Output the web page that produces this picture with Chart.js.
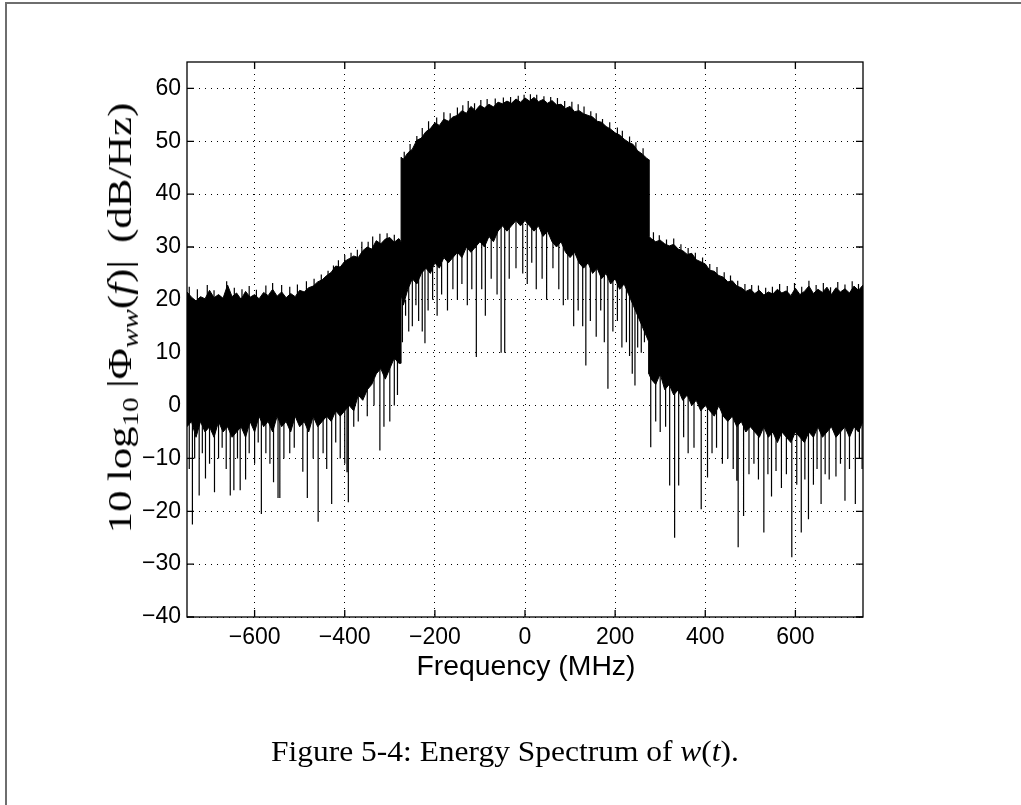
<!DOCTYPE html>
<html lang="en">
<head>
    <meta charset="UTF-8">
    <title>Energy Spectrum of w(t)</title>
    <script src="https://cdn.jsdelivr.net/npm/chart.js"></script>
    <style>
        html, body { margin: 0; padding: 0; background: #fff; }
        body { width: 1021px; height: 805px; position: relative; overflow: hidden; }
        #page-edge {
            position: absolute; left: 5px; top: 2px; right: 0; bottom: 0;
            border-top: 2px solid #6e6e6e; border-left: 2px solid #6e6e6e;
        }
        #chart { position: absolute; left: 0; top: 0; }
        #ylabel {
            position: absolute; left: 120px; top: 318px;
            transform: translate(-50%, -50%) rotate(-90deg) scaleX(1.26);
            font-family: "Liberation Serif", "DejaVu Serif", serif;
            font-size: 34px; line-height: 34px; white-space: nowrap; color: #000;
        }
        #ylabel .gap { display: inline-block; width: 0.22em; }
        #ylabel .wide { display: inline-block; width: 0.4em; }
        #xlabel {
            position: absolute; left: 526px; top: 653px;
            transform: translateX(-50%) scaleX(1.05);
            font-family: "Liberation Sans", Arial, sans-serif;
            font-size: 27px; line-height: 27px; white-space: nowrap; color: #000;
        }
        #caption {
            position: absolute; left: 505px; top: 735px;
            transform: translateX(-50%) scaleX(1.085);
            font-family: "Liberation Serif", "DejaVu Serif", serif;
            font-size: 29px; white-space: nowrap; color: #000;
        }
        sub { font-size: 68%; vertical-align: -0.3em; line-height: 0; }
    </style>
</head>
<body>
    <div id="page-edge"></div>
    <canvas id="chart" width="1021" height="805"></canvas>
    <div id="ylabel">10<span class="gap"></span>log<sub>10</sub><span class="gap"></span>|&Phi;<sub><i>ww</i></sub>(<i>f</i>)|<span class="wide"></span>(dB/Hz)</div>
    <div id="xlabel">Frequency (MHz)</div>
    <div id="caption">Figure 5-4: Energy Spectrum of <i>w</i>(<i>t</i>).</div>

    <script>
        // outer bands (below -275 MHz and above 275 MHz) and the main band
        const leftFreq = [-750, -740, -730, -720, -710, -700, -690, -680, -670, -660,
            -650, -640, -630, -620, -610, -600, -590, -580, -570, -560,
            -550, -540, -530, -520, -510, -500, -490, -480, -470, -460,
            -450, -440, -430, -420, -410, -400, -390, -380, -370, -360,
            -350, -340, -330, -320, -310, -300, -290, -280, -275];
        const upperLeft = [21.5, 20.5, 19.8, 20.6, 20.2, 21.8, 20.4, 21.0, 20.3, 22.8,
            20.6, 21.3, 20.1, 21.6, 20.5, 21.0, 20.2, 21.4, 20.8, 22.0,
            20.7, 21.5, 20.4, 21.2, 20.6, 21.8, 21.5, 22.3, 22.6, 23.4,
            23.8, 24.6, 25.2, 26.4, 26.2, 27.3, 27.8, 28.3, 28.0, 29.3,
            30.0, 29.6, 31.2, 30.6, 31.5, 31.8, 30.9, 31.6, 31.0];
        const lowerLeft = [-4, -3, -6, -3, -5, -4, -6, -3, -5, -4,
            -6, -5, -4, -6, -3, -5, -2, -4, -3, -5,
            -2, -4, -3, -5, -2, -4, -3, -5, -2, -4,
            -3, -2, -3, -1, -2, -1, 0, -1, 2, 1,
            3, 4, 6, 7, 5, 7, 9, 8, 8];

        const midFreq = [-275, -270, -260, -250, -240, -230, -220, -210, -200, -190, -180,
            -170, -160, -150, -140, -130, -120, -110, -100, -90, -80,
            -70, -60, -50, -40, -30, -20, -10, 0, 10, 20,
            30, 40, 50, 60, 70, 80, 90, 100, 110, 120,
            130, 140, 150, 160, 170, 180, 190, 200, 210, 220,
            230, 240, 250, 260, 270, 275];
        const upperMid = [47.0, 46.6, 47.8, 48.5, 50.2, 50.6, 51.8, 52.4, 53.5, 53.0, 54.2,
            53.8, 54.6, 54.9, 55.8, 55.3, 56.6, 55.8, 56.8, 56.3, 57.0,
            56.5, 57.4, 57.1, 57.6, 57.2, 58.0, 57.4, 58.2, 57.6, 58.3,
            57.5, 57.9, 57.2, 57.7, 56.9, 57.0, 56.2, 56.6, 55.6, 55.8,
            55.2, 54.9, 54.6, 53.8, 53.6, 52.8, 52.3, 51.6, 51.2, 50.4,
            49.8, 49.4, 48.2, 47.6, 46.8, 46.5];
        const lowerMid = [21, 19, 22, 24, 23, 25, 26, 25, 27, 26, 28,
            27, 28, 29, 28, 30, 29, 30, 31, 30, 32,
            31, 33, 34, 33, 34, 35, 34, 35, 34, 33,
            34, 32, 33, 31, 30, 31, 29, 28, 29, 27,
            26, 27, 25, 26, 24, 25, 23, 24, 22, 23,
            21, 19, 17, 15, 13, 12];

        const rightFreq = [275, 280, 290, 300, 310, 320, 330, 340, 350, 360, 370,
            380, 390, 400, 410, 420, 430, 440, 450, 460, 470,
            480, 490, 500, 510, 520, 530, 540, 550, 560, 570,
            580, 590, 600, 610, 620, 630, 640, 650, 660, 670,
            680, 690, 700, 710, 720, 730, 740, 750];
        const upperRight = [32.0, 31.6, 31.0, 31.3, 30.6, 30.2, 30.5, 29.6, 29.3, 28.6, 28.8,
            27.6, 27.2, 26.8, 25.6, 25.4, 24.6, 24.3, 23.4, 23.6, 22.6,
            22.3, 21.6, 22.0, 21.2, 21.8, 20.9, 21.5, 21.1, 22.0, 21.3,
            21.7, 20.8, 22.2, 21.0, 21.6, 22.6, 21.2, 22.0, 21.4, 22.4,
            21.0, 22.3, 21.5, 22.1, 21.3, 22.6, 21.8, 22.8];
        const lowerRight = [6, 5, 4, 6, 3, 4, 2, 3, 1, 2, 0,
            1, -1, 0, -1, -2, 0, -2, -3, -2, -4,
            -3, -5, -4, -5, -6, -4, -6, -5, -7, -5,
            -6, -7, -5, -6, -7, -5, -6, -4, -6, -5,
            -4, -6, -5, -4, -6, -4, -5, -3];

        // deep notches hanging below the solid body
        const spikeFreq = [-745, -738, -733, -723, -716, -709, -700, -689, -680, -672,
            -663, -654, -646, -638, -632, -620, -612, -600, -592, -585,
            -575, -566, -558, -548, -544, -535, -522, -512, -493, -483,
            -470, -459, -448, -440, -429, -420, -410, -400, -395, -392,
            -380, -370, -350, -335, -322, -313, -300, -290, -283,
            -272, -265, -258, -250, -242, -236, -228, -222, -215, -205,
            -195, -185, -172, -160, -150, -140, -128, -118, -108, -96,
            -88, -75, -62, -53, -45, -35, -20, -5, 5, 15,
            25, 38, 48, 62, 75, 85, 95, 108, 118, 128,
            135, 145, 158, 168, 176, 184, 195, 205, 215, 225,
            232, 238, 244, 250, 258, 265,
            279, 290, 300, 312, 321, 332, 341, 352, 362, 375,
            391, 405, 415, 425, 438, 450, 462, 470, 473, 485,
            497, 508, 518, 530, 539, 547, 557, 569, 580, 592,
            603, 613, 621, 629, 640, 648, 657, 666, 675, 690,
            700, 710, 720, 733, 742, 748];
        const spikeLow = [-12, -22.5, -10, -17, -9, -13.8, -11, -16.4, -10, -8,
            -12, -17, -16, -10, -16, -14, -9, -11, -7, -20.5,
            -9, -11, -14.5, -17.5, -17.5, -10, -9, -8, -12.5, -17.5,
            -10, -22, -9, -12, -18.6, -7, -10, -11, -12.6, -18.3,
            -4, -3, -2, 0, -8.5, -4, -3, 0, 2,
            12, 17, 14, 15, 19, 16, 14, 11.8, 18, 20,
            17, 21, 18, 22, 20, 23, 19, 22, 9.2, 22,
            17, 24, 21, 10, 10, 24, 26, 25, 23, 27,
            22, 24, 20, 26, 22, 19, 20, 15, 18, 15,
            7.6, 16, 13, 18, 12, 3.2, 14, 16, 11, 12,
            9.4, 6, 3.8, 11, 10, 12,
            -7.9, -3, -5, -4, -15.1, -25, -15.1, -6, -9, -8,
            -19.6, -13.6, -9, -8, -11, -10, -12, -14.2, -26.8, -20.9,
            -13, -11, -14, -24, -13, -17.2, -12.4, -15.6, -13, -28.7,
            -15, -24, -14, -21.5, -15, -12, -18.6, -13, -14, -13.4,
            -11, -18, -12, -18.6, -10, -12];

        // thin peaks poking above the top edge
        const peakFreq = [-745, -727, -705, -690, -662, -645, -628, -612, -596, -575,
            -560, -540, -522, -505, -485, -468, -452, -437, -425, -414,
            -400, -386, -372, -362, -348, -338, -322, -306, -290,
            -268, -255, -240, -228, -214, -196, -180, -166, -150, -138,
            -126, -112, -98, -84, -66, -48, -32, -15, -2, 12,
            26, 42, 57, 72, 88, 104, 118, 131, 146, 158,
            172, 188, 205, 216, 232, 246, 262,
            285, 298, 314, 330, 346, 362, 378, 394, 410, 426,
            442, 456, 472, 488, 503, 518, 534, 549, 565, 582,
            598, 614, 630, 646, 662, 678, 694, 710, 726, 740];
        const peakHigh = [22.5, 22.0, 22.8, 21.8, 23.5, 22.3, 22.0, 22.6, 21.9, 22.7,
            23.2, 22.8, 22.5, 22.9, 23.5, 24.0, 24.8, 25.5, 26.5, 27.5,
            28.5, 28.9, 29.5, 31.0, 31.0, 32.0, 32.5, 32.6, 32.3,
            48.0, 49.5, 51.0, 52.5, 53.8, 54.5, 55.5, 55.3, 56.4, 56.8,
            57.6, 57.2, 57.8, 58.0, 58.1, 58.3, 58.4, 58.6, 58.8, 58.9,
            58.8, 58.5, 58.4, 58.2, 57.6, 57.5, 57.0, 56.6, 55.7, 55.3,
            54.2, 53.6, 52.6, 52.0, 50.9, 49.8, 48.7,
            32.8, 32.2, 31.4, 31.6, 30.5, 29.8, 28.9, 28.0, 26.8, 26.2,
            25.2, 24.6, 23.6, 23.0, 22.8, 22.7, 22.3, 22.5, 23.0, 22.6,
            23.2, 22.5, 23.6, 22.8, 23.2, 22.4, 23.4, 22.9, 23.5, 23.0];

        const xTicks = [-600, -400, -200, 0, 200, 400, 600];
        const yTicks = [-40, -30, -20, -10, 0, 10, 20, 30, 40, 50, 60];

        const freq = leftFreq.concat(midFreq, rightFreq);
        const upper = upperLeft.concat(upperMid, upperRight);
        const lower = lowerLeft.concat(lowerMid, lowerRight);

        function nearestIndex(f) {
            let best = 0;
            for (let i = 1; i < freq.length; i++) {
                if (Math.abs(freq[i] - f) < Math.abs(freq[best] - f)) best = i;
            }
            return best;
        }

        // vertical strokes joined to the solid body, split by null gaps
        const strokePoints = [];
        spikeFreq.forEach((f, i) => {
            strokePoints.push({x: f, y: lower[nearestIndex(f)] + 1}, {x: f, y: spikeLow[i]}, {x: f, y: null});
        });
        peakFreq.forEach((f, i) => {
            strokePoints.push({x: f, y: upper[nearestIndex(f)] - 1}, {x: f, y: peakHigh[i]}, {x: f, y: null});
        });

        const minusLabel = v => (v < 0 ? '\u2212' + Math.abs(v) : String(v));

        // box round the plot with inward tick marks on all four sides
        const axesFrame = {
            id: 'axesFrame',
            afterDatasetsDraw(chart) {
                const {ctx, chartArea: a, scales: {x, y}} = chart;
                const len = 7;
                ctx.save();
                ctx.strokeStyle = '#000';
                ctx.lineWidth = 1.3;
                ctx.strokeRect(a.left, a.top, a.right - a.left, a.bottom - a.top);
                ctx.beginPath();
                xTicks.forEach(v => {
                    const px = x.getPixelForValue(v);
                    ctx.moveTo(px, a.bottom); ctx.lineTo(px, a.bottom - len);
                    ctx.moveTo(px, a.top); ctx.lineTo(px, a.top + len);
                });
                yTicks.forEach(v => {
                    const py = y.getPixelForValue(v);
                    ctx.moveTo(a.left, py); ctx.lineTo(a.left + len, py);
                    ctx.moveTo(a.right, py); ctx.lineTo(a.right - len, py);
                });
                ctx.stroke();
                ctx.restore();
            }
        };

        const tickFont = {family: '"Liberation Sans", Arial, sans-serif', size: 23};

        new Chart(document.getElementById('chart'), {
            type: 'line',
            data: {
                datasets: [
                    {
                        data: freq.map((f, i) => ({x: f, y: upper[i]})),
                        borderColor: '#000', backgroundColor: '#000', borderWidth: 1,
                        pointRadius: 0, tension: 0, fill: '+1'
                    },
                    {
                        data: freq.map((f, i) => ({x: f, y: lower[i]})),
                        borderColor: '#000', borderWidth: 1,
                        pointRadius: 0, tension: 0, fill: false
                    },
                    {
                        data: strokePoints,
                        borderColor: '#000', borderWidth: 1.2,
                        pointRadius: 0, tension: 0, fill: false, spanGaps: false
                    }
                ]
            },
            options: {
                responsive: false,
                animation: false,
                events: [],
                layout: {padding: {left: 0, top: 62, right: 158, bottom: 0}},
                plugins: {legend: {display: false}, tooltip: {enabled: false}},
                scales: {
                    x: {
                        type: 'linear', min: -750, max: 750,
                        afterBuildTicks: s => { s.ticks = xTicks.map(v => ({value: v})); },
                        afterFit: s => { s.height = 188; },
                        ticks: {
                            callback: v => minusLabel(v), font: tickFont, color: '#000',
                            padding: 7, maxRotation: 0, autoSkip: false
                        },
                        grid: {color: '#000', lineWidth: 1, drawTicks: false},
                        border: {display: false, dash: [1, 5]}
                    },
                    y: {
                        type: 'linear', min: -40, max: 65,
                        afterBuildTicks: s => { s.ticks = yTicks.map(v => ({value: v})); },
                        afterFit: s => { s.width = 187; },
                        ticks: {
                            callback: v => minusLabel(v), font: tickFont, color: '#000',
                            padding: 6, autoSkip: false
                        },
                        grid: {color: '#000', lineWidth: 1, drawTicks: false},
                        border: {display: false, dash: [1, 5]}
                    }
                }
            },
            plugins: [axesFrame]
        });
    </script>
</body>
</html>
